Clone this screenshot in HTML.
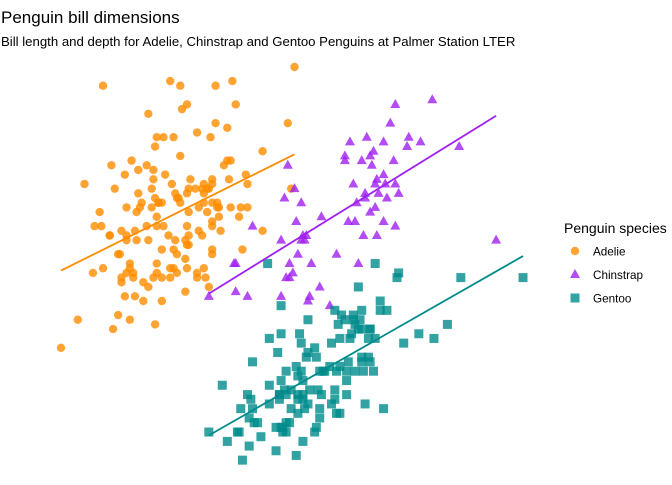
<!DOCTYPE html>
<html><head><meta charset="utf-8"><style>
body{margin:0;background:#fff;}
svg text{font-family:"Liberation Sans",sans-serif;}
</style></head><body>
<svg id="chart" width="672" height="480" viewBox="0 0 672 480" xmlns="http://www.w3.org/2000/svg">
<text x="1" y="23" font-size="17" fill="#000">Penguin bill dimensions</text>
<text x="1" y="46" font-size="13.2" fill="#000">Bill length and depth for Adelie, Chinstrap and Gentoo Penguins at Palmer Station LTER</text>
<g id="plot"></g>
<g>
<text x="564" y="233" font-size="14">Penguin species</text>
<g><circle cx="575" cy="251" r="4.2" fill="#FF8C00" fill-opacity="0.8"/><text x="593" y="255.5" font-size="11.7">Adelie</text></g>
<g><polygon points="575,269 580,278 570,278" fill="#A020F0" fill-opacity="0.8"/><text x="593" y="279" font-size="11.7">Chinstrap</text></g>
<g><rect x="570.5" y="293.5" width="9" height="9" fill="#008B8B" fill-opacity="0.8"/><text x="593" y="302.5" font-size="11.7">Gentoo</text></g>
</g>
</svg>
<script>
const adelieLen=[39.1,39.5,40.3,36.7,39.3,38.9,39.2,34.1,42,37.8,37.8,41.1,38.6,34.6,36.6,38.7,42.5,34.4,46,37.8,37.7,35.9,38.2,38.8,35.3,40.6,40.5,37.9,40.5,39.5,37.2,39.5,40.9,36.4,39.2,38.8,42.2,37.6,39.8,36.5,40.8,36,44.1,37,39.6,41.1,37.5,36,42.3,39.6,40.1,35,42,34.5,41.4,39,40.6,36.5,37.6,35.7,41.3,37.6,41.1,36.4,41.6,35.5,41.1,35.9,41.8,33.5,39.7,39.6,45.8,35.5,42.8,40.9,37.2,36.2,42.1,34.6,42.9,36.7,35.1,37.3,41.3,36.3,36.9,38.3,38.9,35.7,41.1,34,39.6,36.2,40.8,38.1,40.3,33.1,43.2,35,41,37.7,37.8,37.9,39.7,38.6,38.2,38.1,43.2,38.1,45.6,39.7,42.2,39.6,42.7,38.6,37.3,35.7,41.1,36.2,37.7,40.2,41.4,35.2,40.6,38.8,41.5,39,44.1,38.5,43.1,36.8,37.5,38.1,41.1,35.6,40.2,37,39.7,40.2,40.6,32.1,40.7,37.3,39,39.2,36.6,36,37.8,36,41.5];
const adelieDep=[18.7,17.4,18,19.3,20.6,17.8,19.6,18.1,20.2,17.1,17.3,17.6,21.2,21.1,17.8,19,20.7,18.4,21.5,18.3,18.7,19.2,18.1,17.2,18.9,18.6,17.9,18.6,18.9,16.7,18.1,17.8,18.9,17,21.1,20,18.5,19.3,19.1,18,18.4,18.5,19.7,16.9,18.8,19,18.9,17.9,21.2,17.7,18.9,17.9,19.5,18.1,18.6,17.5,18.8,16.6,19.1,16.9,21.1,17,18.2,17.1,18,16.2,19.1,16.6,19.4,19,18.4,17.2,18.9,17.5,18.5,16.8,19.4,16.1,19.1,17.2,17.6,18.8,19.4,17.8,20.3,19.5,18.6,19.2,18.8,18,18.1,17.1,18.1,17.3,18.9,18.6,18.5,16.1,18.5,17.9,20,16,20,18.6,18.9,17.2,20,17,19,16.5,20.3,17.7,19.5,20.7,18.3,17,20.5,17,18.6,17.2,19.8,17,18.5,15.9,19,17.6,18.3,17.1,18,17.9,19.2,18.5,18.5,17.6,17.5,17.5,20.1,16.5,17.9,17.1,17.2,15.5,17,16.8,18.7,18.6,18.4,17.8,18.1,17.1,18.5];
const chinLen=[46.5,50,51.3,45.4,52.7,45.2,46.1,51.3,46,51.3,46.6,51.7,47,52,45.9,50.5,50.3,58,46.4,49.2,42.4,48.5,43.2,50.6,46.7,52,50.5,49.5,46.4,52.8,40.9,54.2,42.5,51,49.7,47.5,47.6,52,46.9,53.5,49,46.2,50.9,45.5,50.9,50.8,50.1,49,51.5,49.8,48.1,51.4,45.7,50.7,42.5,52.2,45.2,49.3,50.2,45.6,51.9,46.8,45.7,55.8,43.5,49.6,50.8,50.2];
const chinDep=[17.9,19.5,19.2,18.7,19.8,17.8,18.2,18.2,18.9,19.9,17.8,20.3,17.3,18.1,17.1,19.6,20,17.8,18.6,18.2,17.3,17.5,16.6,19.4,17.9,19,18.4,19,17.8,20,16.6,20.8,16.7,18.8,18.6,16.8,18.3,20.7,16.6,19.9,19.5,17.5,19.1,17,17.9,18.5,17.9,19.6,18.7,17.3,16.4,19,17.3,19.7,17.3,18.8,16.6,19.9,18.8,19.4,19.5,16.5,17,19.8,18.1,18.2,19,18.7];
const gentLen=[46.1,50,48.7,50,47.6,46.5,45.4,46.7,43.3,46.8,40.9,49,45.5,48.4,45.8,49.3,42,49.2,46.2,48.7,50.2,45.1,46.5,46.3,42.9,46.1,44.5,47.8,48.2,50,47.3,42.8,45.1,59.6,49.1,48.4,42.6,44.4,44,48.7,42.7,49.6,45.3,49.6,50.5,43.6,45.5,50.5,44.9,45.2,46.6,48.5,45.1,50.1,46.5,45,43.8,45.5,43.2,50.4,45.3,46.2,45.7,54.3,45.8,49.8,46.2,49.5,43.5,50.7,47.7,46.4,48.2,46.5,46.4,48.6,47.5,51.1,45.2,45.2,49.1,52.5,47.4,50,44.9,50.8,43.4,51.3,47.5,52.1,47.5,52.2,45.5,49.5,44.5,50.8,49.4,46.9,48.4,51.1,48.5,55.9,47.2,49.1,47.3,46.8,41.7,53.4,43.3,48.1,50.5,49.8,43.5,51.5,46.2,55.1,44.5,48.8,47.2,46.8,50.4,45.2,49.9];
const gentDep=[13.2,16.3,14.1,15.2,14.5,13.5,14.6,15.3,13.4,15.4,13.7,16.1,13.7,14.6,14.6,15.7,13.5,15.2,14.5,15.1,14.3,14.5,14.5,15.8,13.1,15.1,14.3,15,14.3,15.3,15.3,14.2,14.5,17,14.8,16.3,13.7,17.3,13.6,15.7,13.7,16,13.7,15,15.9,13.9,13.9,15.9,13.3,15.8,14.2,14.1,14.4,15,14.4,15.4,13.9,15,14.5,15.3,13.8,14.9,13.9,15.7,14.2,16.8,14.4,16.2,14.2,15,15,15.6,15.6,14.8,15,16,14.2,16.3,13.8,16.4,14.5,15.6,14.6,15.9,13.8,17.3,14.4,14.2,14,17,15,17.1,14.5,16.1,14.7,15.7,15.8,14.6,14.4,16.5,15,17,15.5,15,13.8,16.1,14.7,15.8,14,15.1,15.2,15.9,15.2,16.3,14.1,16,15.7,16.2,13.7,14.3,15.7,14.8,16.1];

const NS="http://www.w3.org/2000/svg";
const plot=document.getElementById('plot');
function xs(v){return 61+(v-32.1)*16.8;}
function ys(v){return 67+(21.5-v)*46.8;}
function fitLine(L,D,color,name){
  const n=L.length;let mx=0,my=0;for(let i=0;i<n;i++){mx+=L[i];my+=D[i];}mx/=n;my/=n;
  let sxy=0,sxx=0;for(let i=0;i<n;i++){sxy+=(L[i]-mx)*(D[i]-my);sxx+=(L[i]-mx)**2;}
  const b=sxy/sxx,a=my-b*mx;const x0=Math.min(...L),x1=Math.max(...L);
  const ln=document.createElementNS(NS,'line');
  
  
  ln.setAttribute('x1',xs(x0));ln.setAttribute('y1',ys(a+b*x0));
  ln.setAttribute('x2',xs(x1));ln.setAttribute('y2',ys(a+b*x1));
  ln.setAttribute('stroke',color);ln.setAttribute('stroke-width','1.8');
  plot.appendChild(ln);
}
function pts(L,D,color,shape,name){
  for(let i=0;i<L.length;i++){
    const x=xs(L[i]),y=ys(D[i]);let el;
    if(shape==='c'){el=document.createElementNS(NS,'circle');el.setAttribute('cx',x);el.setAttribute('cy',y);el.setAttribute('r',4.2);}
    else if(shape==='t'){el=document.createElementNS(NS,'polygon');el.setAttribute('points',`${x},${y-5.5} ${x+5},${y+3.5} ${x-5},${y+3.5}`);}
    else{el=document.createElementNS(NS,'rect');el.setAttribute('x',x-4.5);el.setAttribute('y',y-4.5);el.setAttribute('width',9);el.setAttribute('height',9);}
    
    
    el.setAttribute('fill',color);el.setAttribute('fill-opacity','0.8');
    plot.appendChild(el);
  }
}
pts(adelieLen,adelieDep,'#FF8C00','c','adelie-point');
pts(chinLen,chinDep,'#A020F0','t','chinstrap-point');
pts(gentLen,gentDep,'#008B8B','s','gentoo-point');
fitLine(adelieLen,adelieDep,'#FF8C00','adelie-trend-line');
fitLine(chinLen,chinDep,'#A020F0','chinstrap-trend-line');
fitLine(gentLen,gentDep,'#008B8B','gentoo-trend-line');
</script>
</body></html>
